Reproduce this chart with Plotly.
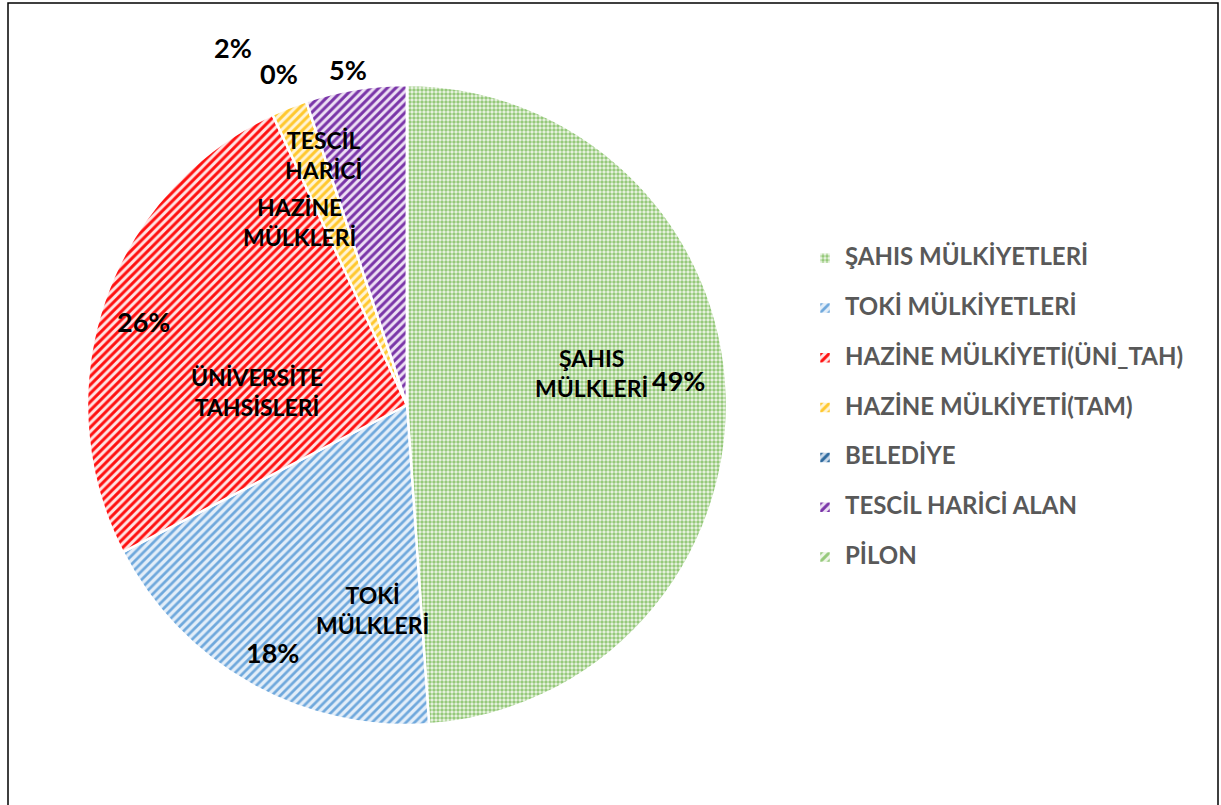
import plotly.graph_objects as go

# ---- data ----
categories = ["ŞAHIS MÜLKİYETLERİ", "TOKİ MÜLKİYETLERİ", "HAZİNE MÜLKİYETİ(ÜNİ_TAH)",
              "HAZİNE MÜLKİYETİ(TAM)", "BELEDİYE", "TESCİL HARİCİ ALAN", "PİLON"]
values = [48.9, 18.5, 25.7, 1.8, 0, 5.1, 0]
slice_names = ["ŞAHIS<br>MÜLKLERİ", "TOKİ<br>MÜLKLERİ", "ÜNİVERSİTE<br>TAHSİSLERİ",
               "HAZİNE<br>MÜLKLERİ", "", "TESCİL<br>HARİCİ", ""]
show_pct = [True, True, True, True, True, True, False]

colors_fg = ["#95C97A", "#6FA8DC", "#FF1010", "#FFC82E", "#2E6A9E", "#7A35A8", "#95C97A"]
colors_bg = ["#EEF6E8", "#E3EEF9", "#FFE4E4", "#FFF4D6", "#C9D9EA", "#EDE0F4", "#EEF6E8"]
shapes_p = [".", "/", "/", "/", "/", "/", "/"]

W, H = 1221, 805
FONT = "Lato"

legend_labels = [f"<span style='font-size:24px'>{c}</span><br> " for c in categories]

fig = go.Figure(go.Pie(
    labels=legend_labels,
    values=values,
    sort=False,
    direction="clockwise",
    rotation=0,
    textinfo="none",
    hoverinfo="skip",
    marker=dict(
        colors=colors_bg,
        line=dict(color="white", width=2.5),
        pattern=dict(shape=shapes_p, fgcolor=colors_fg, bgcolor=colors_bg,
                     size=[4, 6, 6, 6, 6, 6, 6], solidity=[0.6, 0.45, 0.5, 0.5, 0.5, 0.5, 0.5],
                     fillmode="replace"),
    ),
    domain=dict(x=[87 / W, 727 / W], y=[1 - 725 / H, 1 - 85 / H]),
    showlegend=True,
))

total = sum(values)

def px(x, y):
    return x / W, 1 - y / H

# label placement (pixel positions of text centres)
name_pos = [(591, 373), (372, 610), (257, 392), (299, 222), None, (323, 155), None]
pct_pos = [(678, 380), (272, 652), (143, 321), (233, 48), (279, 73), (348, 69), None]

annotations = []
for i, v in enumerate(values):
    if slice_names[i] and name_pos[i]:
        x, y = px(*name_pos[i])
        annotations.append(dict(x=x, y=y, xref="paper", yref="paper", text=slice_names[i],
                                showarrow=False, xanchor="center", yanchor="middle",
                                font=dict(family=FONT, size=23, color="black", weight="bold")))
    if show_pct[i] and pct_pos[i]:
        x, y = px(*pct_pos[i])
        annotations.append(dict(x=x, y=y, xref="paper", yref="paper",
                                text=f"{round(v / total * 100)}%",
                                showarrow=False, xanchor="center", yanchor="middle",
                                font=dict(family=FONT, size=27, color="black", weight="bold")))

fig.update_layout(
    width=W, height=H,
    margin=dict(l=0, r=0, t=0, b=0),
    paper_bgcolor="white",
    plot_bgcolor="white",
    font=dict(family=FONT),
    annotations=annotations,
    legend=dict(
        x=805 / W, xanchor="left",
        y=1 - 240 / H, yanchor="top",
        valign="top",
        itemwidth=30,
        font=dict(family=FONT, size=18, color="#595959", weight="bold"),
        bgcolor="rgba(0,0,0,0)",
    ),
    shapes=[dict(type="rect", xref="paper", yref="paper",
                 x0=8 / W, x1=1218 / W, y0=-0.05, y1=1 - 3 / H,
                 line=dict(color="black", width=1.5), fillcolor="rgba(0,0,0,0)", layer="below")],
)

fig.write_html("out.html", config={"displayModeBar": False},
               post_script="document.body.style.margin='0';document.body.style.overflow='hidden';")
